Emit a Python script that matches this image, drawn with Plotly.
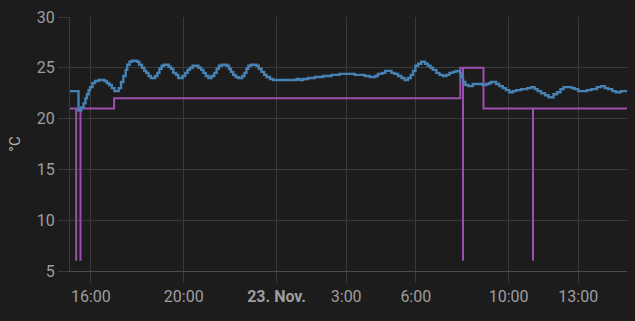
import datetime as dt
import plotly.graph_objects as go

BASE = dt.datetime(2023, 11, 22, 15, 0)

# Room temperature (minutes after 22 Nov 15:00, °C)
temp_min = [0, 28, 35, 41, 46, 50, 54, 58, 64, 71, 80, 95, 101, 107, 114, 121, 132, 138, 144, 150,
            154, 160, 166, 179, 185, 192, 198, 203, 209, 215, 226, 232, 237, 243, 249, 261, 267, 273,
            280, 286, 297, 304, 310, 316, 323, 338, 345, 351, 357, 364, 372, 379, 385, 391, 398, 411,
            417, 422, 428, 434, 441, 451, 457, 462, 467, 474, 488, 494, 501, 508, 514, 523, 531, 592,
            600, 609, 622, 639, 660, 682, 703, 742, 768, 781, 795, 802, 813, 821, 837, 845, 854, 863,
            871, 880, 887, 893, 899, 906, 914, 924, 931, 938, 944, 953, 961, 970, 979, 987, 996, 1004,
            1014, 1017, 1022, 1028, 1036, 1047, 1073, 1082, 1090, 1095, 1108, 1116, 1125, 1133, 1142,
            1151, 1159, 1172, 1188, 1198, 1207, 1215, 1224, 1234, 1243, 1256, 1265, 1274, 1282, 1303,
            1311, 1320, 1342, 1354, 1368, 1379, 1389, 1397, 1408, 1417, 1430, 1450]
temp_val = [22.7, 20.8, 21.1, 21.5, 22.0, 22.4, 22.8, 23.1, 23.5, 23.7, 23.8, 23.7, 23.5, 23.3, 23.0, 22.7, 23.0, 23.6, 24.2, 24.8,
            25.3, 25.6, 25.7, 25.6, 25.3, 25.0, 24.7, 24.5, 24.2, 24.0, 24.2, 24.5, 24.9, 25.2, 25.3, 25.1, 24.9, 24.5,
            24.3, 24.0, 24.2, 24.5, 24.8, 25.0, 25.2, 25.0, 24.8, 24.5, 24.2, 24.0, 24.2, 24.5, 24.9, 25.2, 25.3, 25.2,
            24.9, 24.6, 24.3, 24.1, 24.0, 24.2, 24.5, 24.9, 25.2, 25.3, 25.2, 24.9, 24.6, 24.3, 24.1, 23.9, 23.8, 23.9,
            23.8, 23.9, 24.0, 24.1, 24.2, 24.3, 24.4, 24.3, 24.2, 24.1, 24.2, 24.4, 24.5, 24.7, 24.5, 24.4, 24.2, 24.0,
            23.8, 24.0, 24.3, 24.7, 25.2, 25.4, 25.6, 25.4, 25.2, 25.0, 24.8, 24.5, 24.3, 24.2, 24.3, 24.5, 24.6, 24.7,
            24.5, 24.1, 23.6, 23.3, 23.2, 23.4, 23.3, 23.4, 23.5, 23.6, 23.4, 23.2, 23.0, 22.8, 22.6,
            22.7, 22.8, 22.9, 23.0, 23.1, 22.9, 22.7, 22.5, 22.3, 22.1, 22.4, 22.6, 22.9, 23.1, 23.0,
            22.9, 22.7, 22.8, 22.9, 23.1, 23.2, 23.0, 22.9, 22.7, 22.6, 22.7, 22.7]

# Target temperature (minutes after 22 Nov 15:00, °C)
target_min = [0, 22, 22, 33, 33, 120, 1015, 1022, 1022, 1075, 1203, 1203, 1450]
target_val = [21, 6, 21, 6, 21, 22, 25, 6, 25, 21, 6, 21, 21]

# X axis ticks
tick_min = [60, 300, 540, 720, 900, 1140, 1320]
tick_text = ["16:00", "20:00", "<b>23. Nov.</b>", "3:00", "6:00", "10:00", "13:00"]


def to_time(mins):
    return [BASE + dt.timedelta(minutes=m) for m in mins]


GRID = "#3a3a3a"
TXT = "#9e9e9e"

fig = go.Figure()
fig.add_trace(go.Scatter(x=to_time(target_min), y=target_val, mode="lines",
                         line=dict(color="#9c4fae", width=2, shape="hv"), hoverinfo="skip"))
fig.add_trace(go.Scatter(x=to_time(temp_min), y=temp_val, mode="lines",
                         line=dict(color="#4682b4", width=2.4, shape="hv"), hoverinfo="skip"))

fig.update_layout(
    width=635, height=321,
    margin=dict(l=70, r=8, t=12, b=50),
    paper_bgcolor="#1c1c1c", plot_bgcolor="#1c1c1c",
    showlegend=False,
    font=dict(family="Roboto", color=TXT, size=16),
    xaxis=dict(
        range=to_time([6, 1446]),
        tickvals=to_time(tick_min), ticktext=tick_text,
        showgrid=True, gridcolor=GRID, gridwidth=1,
        ticks="outside", ticklen=11, tickcolor=GRID, tickwidth=1,
        showline=True, linecolor="#4c4c4c", linewidth=1,
        zeroline=False, tickfont=dict(size=16, color=TXT),
    ),
    yaxis=dict(
        range=[5, 30], tickvals=[5, 10, 15, 20, 25, 30],
        showgrid=True, gridcolor=GRID, gridwidth=1,
        ticks="outside", ticklen=11, tickcolor=GRID, tickwidth=1,
        showline=True, linecolor=GRID, linewidth=1,
        zeroline=False, tickfont=dict(size=16, color=TXT),
        title=dict(text="°C", font=dict(size=15, color="#b0b0b0"), standoff=12),
    ),
)

fig.write_html("out.html")
